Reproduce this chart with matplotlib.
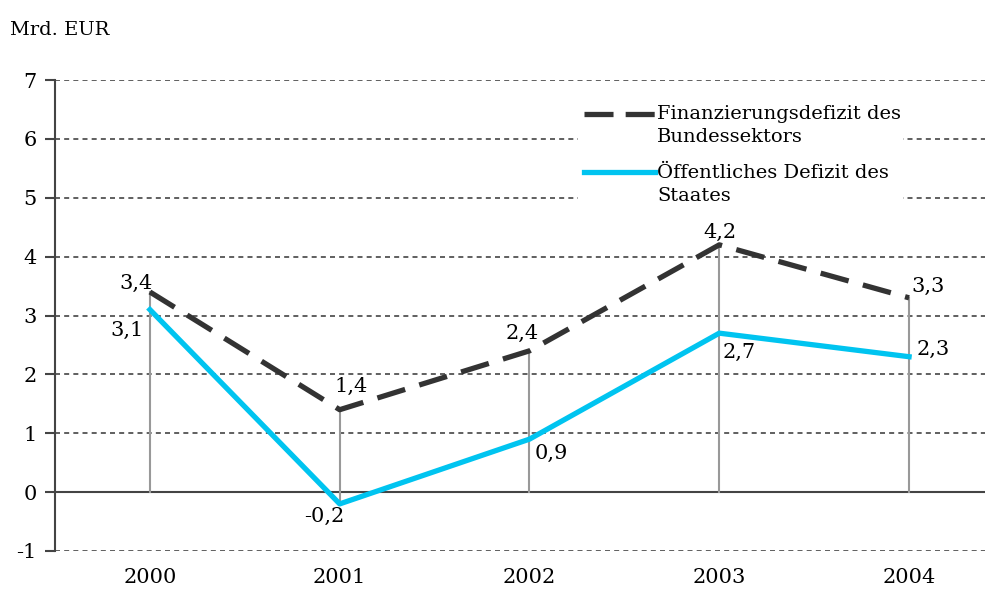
import matplotlib.pyplot as plt
from matplotlib.lines import Line2D
from matplotlib.patches import Rectangle
import numpy as np

plt.rcParams['font.family'] = ['DejaVu Serif']
plt.rcParams['axes.unicode_minus'] = False

years = ['2000', '2001', '2002', '2003', '2004']
bund = [3.4, 1.4, 2.4, 4.2, 3.3]
staat = [3.1, -0.2, 0.9, 2.7, 2.3]
bund_lbl = ['3,4', '1,4', '2,4', '4,2', '3,3']
staat_lbl = ['3,1', '-0,2', '0,9', '2,7', '2,3']
# label offsets in pixels (dx, dy)
bund_off = [(-14, 9), (11, 23), (-7, 17), (1, 12), (19, 11)]
staat_off = [(-23, -21), (-15, -13), (22, -14), (20, -19), (24, 7)]

x = np.arange(len(years))
dark = '#333333'
cyan = '#00C4F0'
W, H = 991, 593

fig = plt.figure(figsize=(9.91, 5.93), dpi=100)
ax = fig.add_axes([55 / W, 1 - 551 / H, 930 / W, 471 / H])

# grid lines
for v in range(-1, 8):
    if v == 0:
        ax.axhline(0, color='#444444', lw=1.5, zorder=1)
    else:
        ax.axhline(v, color='#444444', lw=1.2, ls=(0, (3, 2.5)), zorder=1)

# drop lines
for i in x:
    lo = min(0, bund[i], staat[i])
    hi = max(0, bund[i], staat[i])
    ax.plot([i, i], [lo, hi], color='#999999', lw=1.5, zorder=2)

ax.plot(x, bund, color=dark, lw=3.8, dashes=(5.5, 2.8), zorder=4)
ax.plot(x, staat, color=cyan, lw=3.8, zorder=3)

fs = 15
fs_txt = 14
for i in x:
    ax.annotate(bund_lbl[i], (x[i], bund[i]), xytext=bund_off[i], textcoords='offset pixels',
                ha='center', va='center', fontsize=fs)
    ax.annotate(staat_lbl[i], (x[i], staat[i]), xytext=staat_off[i], textcoords='offset pixels',
                ha='center', va='center', fontsize=fs)

ax.set_xlim(-0.5, 4.4)
ax.set_ylim(-1, 7)
ax.set_yticks(range(-1, 8))
ax.set_xticks(x)
ax.set_xticklabels(years, fontsize=fs)
ax.tick_params(axis='y', labelsize=fs, length=7, width=1.5, color='#444444', pad=6)
ax.tick_params(axis='x', length=0, pad=12)
for s in ['top', 'right', 'bottom']:
    ax.spines[s].set_visible(False)
ax.spines['left'].set_color('#444444')
ax.spines['left'].set_linewidth(1.5)

# legend drawn by hand (handles sit on the first text line)
def fx(px):
    return px / W

def fy(py):
    return 1 - py / H

fig.add_artist(Rectangle((fx(578), fy(212)), fx(903) - fx(578), fy(92) - fy(212),
                         transform=fig.transFigure, facecolor='white', edgecolor='none', zorder=5))
fig.add_artist(Line2D([fx(584), fx(655)], [fy(114), fy(114)], transform=fig.transFigure,
                      color=dark, lw=3.8, dashes=(5.5, 2.3), zorder=6))
fig.add_artist(Line2D([fx(584), fx(655)], [fy(172), fy(172)], transform=fig.transFigure,
                      color=cyan, lw=3.8, zorder=6))
leg_lines = [('Finanzierungsdefizit des', 114), ('Bundessektors', 137),
             ('Öffentliches Defizit des', 173), ('Staates', 196)]
for txt, py in leg_lines:
    fig.text(fx(657), fy(py), txt, fontsize=fs_txt, va='center', ha='left', zorder=7)

fig.text(fx(10), fy(30), 'Mrd. EUR', fontsize=fs_txt, va='center')

fig.savefig('out.png', dpi=100)
